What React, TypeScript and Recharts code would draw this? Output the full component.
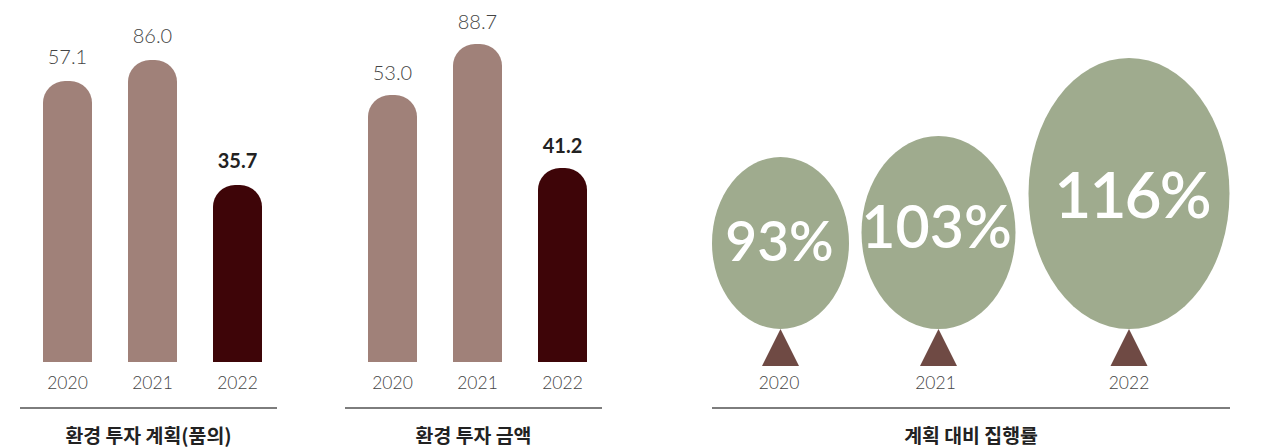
import { BarChart, Bar, Cell, LabelList, XAxis, YAxis, ScatterChart, Scatter } from "recharts";

const years = ["2020", "2021", "2022"];

// printed figures, and the drawn bar heights (the original bars are not to scale)
const planLabels = ["57.1", "86.0", "35.7"];
const planHeights = [281, 302, 177];
const spendLabels = ["53.0", "88.7", "41.2"];
const spendHeights = [267, 318, 194];

const rateLabels = ["93%", "103%", "116%"];
const balloonCenters = [68.5, 226.5, 417];
const balloonWidths = [137, 154, 201];
const balloonHeights = [172, 193, 271];
const balloonTicks = [67, 223.5, 417];

const FONT = "Lato, 'Noto Sans', sans-serif";
const KR_FONT = "'Noto Sans CJK KR', sans-serif";
const STEM = 37;

const rateFontSize = [55, 59, 64];
const rateNudge = [
  [-1, -3],
  [-2, -7],
  [3, 0],
];

function toRows(labels: string[], heights: number[]) {
  return years.map((year, i) => ({ year, label: labels[i], height: heights[i] }));
}

const balloons = years.map((year, i) => ({
  year,
  x: balloonCenters[i],
  y: balloonHeights[i],
  w: balloonWidths[i],
  label: rateLabels[i],
  i,
}));

function Balloon(props: any) {
  const { cx, cy, payload } = props;
  const base = cy + payload.y;
  const [dx, dy] = rateNudge[payload.i];
  return (
    <g>
      <ellipse cx={cx} cy={(cy + base) / 2} rx={payload.w / 2} ry={payload.y / 2} fill="#9fab8e" />
      <path d={`M${cx} ${base}L${cx + 18.5} ${base + STEM}L${cx - 18.5} ${base + STEM}Z`} fill="#6f4a44" />
      <text
        x={cx + dx}
        y={(cy + base) / 2 + dy}
        textAnchor="middle"
        dominantBaseline="central"
        fontFamily={FONT}
        fontSize={rateFontSize[payload.i]}
        fontWeight={600}
        letterSpacing={payload.i === 2 ? -2 : 0}
        fill="#fff"
      >
        {payload.label}
      </text>
    </g>
  );
}

const tickStyle = { fontFamily: FONT, fontSize: 17.5, fontWeight: 300, fill: "#444" };

function Footer({ left, width, title }: { left: number; width: number; title: string }) {
  return (
    <>
      <div style={{ position: "absolute", left, top: 407, width, height: 2, background: "#7d7d7d" }} />
      <div
        style={{
          position: "absolute",
          left,
          top: 422,
          width,
          textAlign: "center",
          fontFamily: KR_FONT,
          fontWeight: 700,
          fontSize: 19.4,
          lineHeight: "26px",
          color: "#222",
        }}
      >
        {title}
      </div>
    </>
  );
}

function YearBars({
  left,
  labels,
  heights,
  labelGap,
}: {
  left: number;
  labels: string[];
  heights: number[];
  labelGap: number;
}) {
  const renderLabel = (props: any) => {
    const { x, y, width, value, index } = props;
    const last = index === years.length - 1;
    return (
      <text
        x={x + width / 2}
        y={y - labelGap}
        textAnchor="middle"
        fontFamily={FONT}
        fontSize={20}
        fontWeight={last ? 700 : 300}
        fill={last ? "#222" : "#444"}
      >
        {value}
      </text>
    );
  };

  return (
    <div style={{ position: "absolute", left, top: 0 }}>
      <BarChart
        width={255}
        height={400}
        data={toRows(labels, heights)}
        margin={{ top: 0, right: 0, bottom: 0, left: 0 }}
      >
        <XAxis dataKey="year" height={38} axisLine={false} tickLine={false} tick={tickStyle} tickMargin={9} interval={0} />
        <YAxis hide domain={[0, 362]} />
        <Bar dataKey="height" barSize={49} radius={[22, 22, 0, 0]} isAnimationActive={false}>
          {years.map((year, i) => (
            <Cell key={year} fill={i === years.length - 1 ? "#3e0508" : "#a08179"} />
          ))}
          <LabelList dataKey="label" content={renderLabel} />
        </Bar>
      </BarChart>
    </div>
  );
}

export default function App() {
  return (
    <div style={{ position: "absolute", left: 0, top: 0, width: 1264, height: 448, background: "#fff", overflow: "hidden" }}>
      <YearBars left={25} labels={planLabels} heights={planHeights} labelGap={17} />
      <Footer left={20} width={257} title="환경 투자 계획(품의)" />

      <YearBars left={350} labels={spendLabels} heights={spendHeights} labelGap={15} />
      <Footer left={345} width={257} title="환경 투자 금액" />

      <div style={{ position: "absolute", left: 712, top: 0 }}>
        <ScatterChart width={518} height={400} margin={{ top: 0, right: 0, bottom: 0, left: 0 }}>
          <XAxis
            type="number"
            dataKey="x"
            domain={[0, 518]}
            height={34}
            ticks={balloonTicks}
            tickFormatter={(v: number) => years[balloonTicks.indexOf(v)]}
            axisLine={false}
            tickLine={false}
            tick={tickStyle}
            tickMargin={5}
            interval={0}
          />
          <YAxis hide type="number" dataKey="y" domain={[-STEM, 329]} />
          <Scatter data={balloons} shape={Balloon} isAnimationActive={false} />
        </ScatterChart>
      </div>
      <Footer left={712} width={518} title="계획 대비 집행률" />
    </div>
  );
}
